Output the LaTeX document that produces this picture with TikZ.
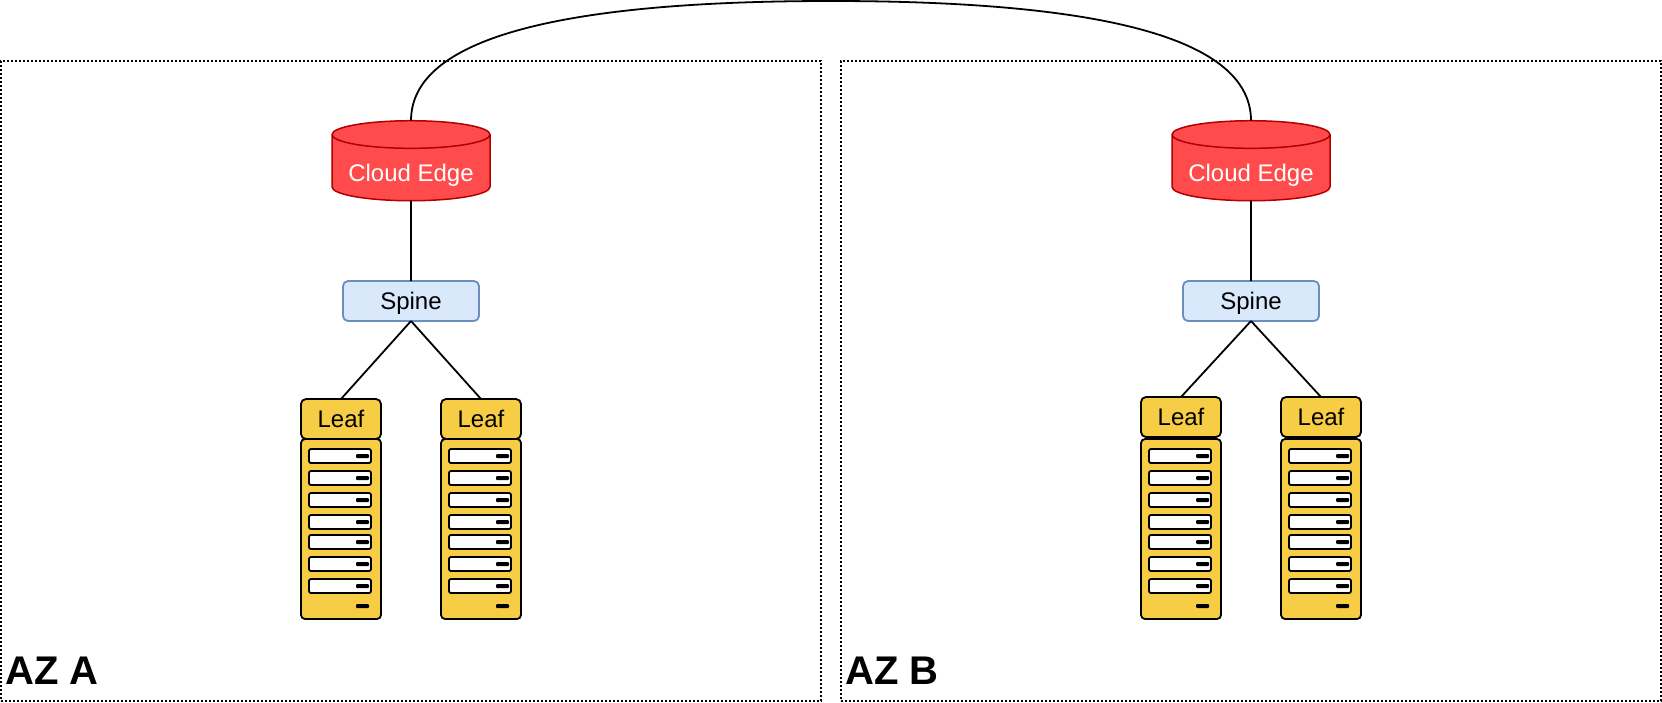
\documentclass[tikz,border=0pt]{standalone}
\usepackage{fontspec}
\setmainfont{Liberation Sans}
\usetikzlibrary{calc,positioning,shapes.geometric}

\definecolor{edgefill}{RGB}{255,75,75}
\definecolor{edgeline}{RGB}{178,0,0}
\definecolor{spinefill}{RGB}{218,232,252}
\definecolor{spineline}{RGB}{108,142,191}
\definecolor{rackfill}{RGB}{248,205,70}

\tikzset{
	zone/.style={draw,line width=1.6pt,dash pattern=on 2pt off 2pt,minimum width=820pt,minimum height=640pt,inner sep=0pt},
	zonelabel/.style={font=\fontsize{40}{40}\selectfont\bfseries,inner sep=0pt,anchor=base west},
	boxtext/.style={inner sep=0pt,outer sep=0pt,text height=17pt,text depth=0pt,font=\fontsize{24}{24}\selectfont},
	cloud/.style={cylinder,shape border rotate=90,aspect=0.22,draw=edgeline,line width=1.5pt,fill=edgefill,text=white,
		minimum width=158pt,minimum height=80pt,boxtext,text height=27pt},
	spine/.style={draw=spineline,line width=1.8pt,fill=spinefill,rounded corners=5pt,minimum width=136pt,minimum height=40pt,boxtext},
	leaf/.style={draw,line width=1.8pt,fill=rackfill,rounded corners=5pt,minimum width=80pt,minimum height=40pt,boxtext},
	rack/.style={draw,line width=1.8pt,fill=rackfill,rounded corners=4pt,minimum width=80pt,minimum height=180pt,inner sep=0pt,outer sep=0pt},
	server/.style={draw,line width=1.8pt,fill=white,rounded corners=2pt,minimum width=62pt,minimum height=14pt,inner sep=0pt,outer sep=0pt},
	led/.style={fill=black,rounded corners=1pt,minimum width=13pt,minimum height=4pt,inner sep=0pt},
	link/.style={draw,line width=1.8pt}
}

\newcommand{\fillrack}[1]{
	\foreach \y [count=\i] in {17,39,61,83,103,125,147} {
		\node[server] (#1_s\i) at ($(#1.north)+(-1pt,-\y pt)$) {};
		\node[led] (#1_l\i) at ($(#1_s\i.east)+(-8.5pt,0pt)$) {};
	}
	\node[led] (#1_l8) at ($(#1_l7)+(0pt,-20pt)$) {};
}

\begin{document}
\begin{tikzpicture}[x=1pt,y=-1pt]
	\useasboundingbox (0,0) rectangle (1662,702);
	\node[zone] (az_a) at (411,381) {};
	\node[zone] (az_b) at (1251,381) {};
	\node[zonelabel] (label_a) at (5,684) {AZ A};
	\node[zonelabel] (label_b) at (845,684) {AZ B};

	\node[cloud] (edge_a) at (411,168) {Cloud Edge};
	\node[cloud] (edge_b) at (1251,168) {Cloud Edge};
	\node[spine] (spine_a) at (411,301) {Spine};
	\node[spine] (spine_b) at (1251,301) {Spine};

	\node[leaf] (leaf_a1) at (341,419) {Leaf};
	\node[leaf] (leaf_a2) at (481,419) {Leaf};
	\node[leaf] (leaf_b1) at (1181,417) {Leaf};
	\node[leaf] (leaf_b2) at (1321,417) {Leaf};

	\node[rack,below=0pt of leaf_a1] (rack_a1) {};
	\node[rack,below=0pt of leaf_a2] (rack_a2) {};
	\node[rack] (rack_b1) at (1181,529) {};
	\node[rack] (rack_b2) at (1321,529) {};
	\fillrack{rack_a1}
	\fillrack{rack_a2}
	\fillrack{rack_b1}
	\fillrack{rack_b2}

	\path[link]
		(edge_a.south) -- (spine_a.north)
		(edge_b.south) -- (spine_b.north)
		(spine_a.south) -- (leaf_a1.north)
		(spine_a.south) -- (leaf_a2.north)
		(spine_b.south) -- (leaf_b1.north)
		(spine_b.south) -- (leaf_b2.north);
	\draw[link] (edge_a.north) .. controls (411,50) and (520,1) .. (831,1) .. controls (1142,1) and (1251,50) .. (edge_b.north);
\end{tikzpicture}
\end{document}
